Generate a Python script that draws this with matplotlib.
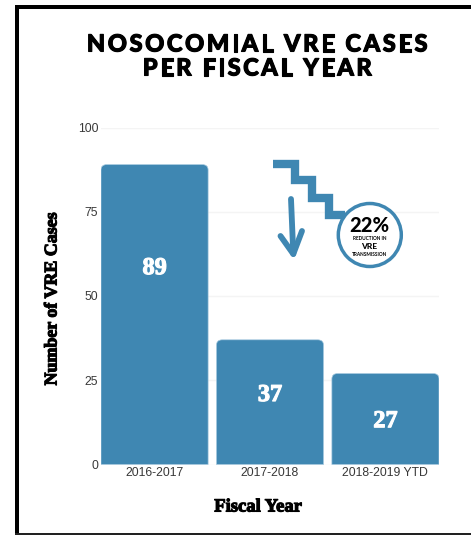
import matplotlib
matplotlib.use("Agg")
import matplotlib.pyplot as plt
from matplotlib.patches import Circle, PathPatch, Rectangle
from matplotlib.path import Path
import matplotlib.patheffects as pe
from matplotlib.font_manager import FontProperties
from matplotlib.textpath import TextPath

years = ["2016-2017", "2017-2018", "2018-2019 YTD"]
cases = [89, 37, 27]
yticks = [0, 25, 50, 75, 100]

W, H = 471, 535
BLUE = "#3f87b2"
serif = "Liberation Serif"
bold_stroke = [pe.withStroke(linewidth=0.8, foreground="black")]


def rounded_bar(ax, x, height, width, rx, ry, **kw):
    # flat bottom, rounded top corners
    l, r = x - width / 2, x + width / 2
    verts = [(l, 0), (l, height - ry), (l, height), (l + rx, height),
             (r - rx, height), (r, height), (r, height - ry), (r, 0), (l, 0)]
    codes = [Path.MOVETO, Path.LINETO, Path.CURVE3, Path.CURVE3,
             Path.LINETO, Path.CURVE3, Path.CURVE3, Path.LINETO, Path.CLOSEPOLY]
    ax.add_patch(PathPatch(Path(verts, codes), **kw))


def spaced_text(ax, cx, y, s, size, spacing, font):
    # matplotlib has no letter spacing, so letters go down one by one
    adv = []
    for i in range(len(s)):
        w_all = TextPath((0, 0), s[:i + 1] + "|", size=size, prop=font).get_extents().width
        w_bar = TextPath((0, 0), s[:i] + "|", size=size, prop=font).get_extents().width if i else None
        adv.append(w_all if i == 0 else w_all - w_bar)
    base = TextPath((0, 0), "|", size=size, prop=font).get_extents().width
    adv[0] -= base
    # points to pixels
    adv = [a * 100 / 72 + spacing for a in adv]
    x = cx - sum(adv) / 2
    for ch, a in zip(s, adv):
        ax.text(x, y, ch, fontproperties=font, fontsize=size, color="black",
                ha="left", va="baseline",
                path_effects=[pe.withStroke(linewidth=0.8, foreground="black")])
        x += a


fig = plt.figure(figsize=(W / 100, H / 100), dpi=100, facecolor="white")
ax = fig.add_axes([101 / W, 1 - 464.5 / H, 338 / W, 337 / H])

bar_width = 0.928
for i, v in enumerate(cases):
    rounded_bar(ax, i, v, bar_width, 0.05, 1.6, facecolor=BLUE,
                edgecolor="#a9cbe0", linewidth=0.5, zorder=3)

ax.set_xlim(-bar_width / 2, 2 + bar_width / 2)
ax.set_ylim(0, 100)
ax.set_xticks(range(len(years)))
ax.set_xticklabels(years, family="Liberation Sans", fontsize=8.8, color="#383838")
ax.set_yticks(yticks)
ax.set_yticklabels(yticks, family="Liberation Sans", fontsize=8.8, color="#383838")
ax.tick_params(length=0, pad=2)
ax.grid(axis="y", color="#f4f4f4", linewidth=1)
ax.set_axisbelow(True)
for s in ax.spines.values():
    s.set_visible(False)

# value labels sit a bit above mid-bar
for i, (v, frac) in enumerate(zip(cases, [0.653, 0.553, 0.47])):
    ax.text(i, v * frac, str(v), color="white", fontsize=17.5, family=serif,
            weight="bold", ha="center", va="center", zorder=4,
            path_effects=[pe.withStroke(linewidth=0.8, foreground="white")])

# overlay in pixel coordinates for frame, titles and the callout
ov = fig.add_axes([0, 0, 1, 1], facecolor="none")
ov.set_xlim(0, W)
ov.set_ylim(H, 0)
ov.axis("off")

ov.add_patch(Rectangle((15, 5), W, 4, color="black", lw=0))
ov.add_patch(Rectangle((15, 5), 4, H, color="black", lw=0))
ov.add_patch(Rectangle((15, 533), W, 2, color="#222222", lw=0))

title_font = FontProperties(family="Lato", weight="black")
spaced_text(ov, 258.5, 51.5, "NOSOCOMIAL VRE CASES", 17, 2.6, title_font)
spaced_text(ov, 258.5, 75.5, "PER FISCAL YEAR", 17, 2.5, title_font)

ov.text(52, 299, "Number of VRE Cases", rotation=90, family=serif, weight="bold",
        fontsize=12.9, ha="center", va="center", path_effects=bold_stroke)
ov.text(258, 507, "Fiscal Year", family=serif, weight="bold", fontsize=13.4,
        ha="center", va="center", path_effects=bold_stroke)

# stair line into the badge
stair_x = [273.3, 294.5, 294.5, 311.7, 311.7, 328.7, 328.7, 345]
stair_y = [163.5, 163.5, 180.3, 180.3, 197.7, 197.7, 214.8, 214.8]
ov.plot(stair_x, stair_y, color=BLUE, lw=6, solid_joinstyle="miter", solid_capstyle="butt")

# hand drawn style down arrow
ov.plot([291, 293.3], [199, 254], color=BLUE, lw=4.2, solid_capstyle="round")
ov.plot([280.5, 293.3, 302], [236, 254, 231], color=BLUE, lw=4.2,
        solid_capstyle="round", solid_joinstyle="round")

ov.add_patch(Circle((369.8, 235), 31.5, facecolor="white", edgecolor=BLUE, lw=2.5, zorder=5))
ov.text(369.5, 225.5, "22%", family="Lato", weight="black", fontsize=14.5,
        ha="center", va="center", zorder=6)
ov.text(369.5, 239, "REDUCTION IN", family="Lato", weight="bold", fontsize=3.4,
        ha="center", va="center", zorder=6)
ov.text(369.5, 246.5, "VRE", family="Lato", weight="black", fontsize=6,
        ha="center", va="center", zorder=6)
ov.text(369.5, 254.5, "TRANSMISSION", family="Lato", weight="bold", fontsize=3.4,
        ha="center", va="center", zorder=6)

fig.savefig("out.png", dpi=100)
